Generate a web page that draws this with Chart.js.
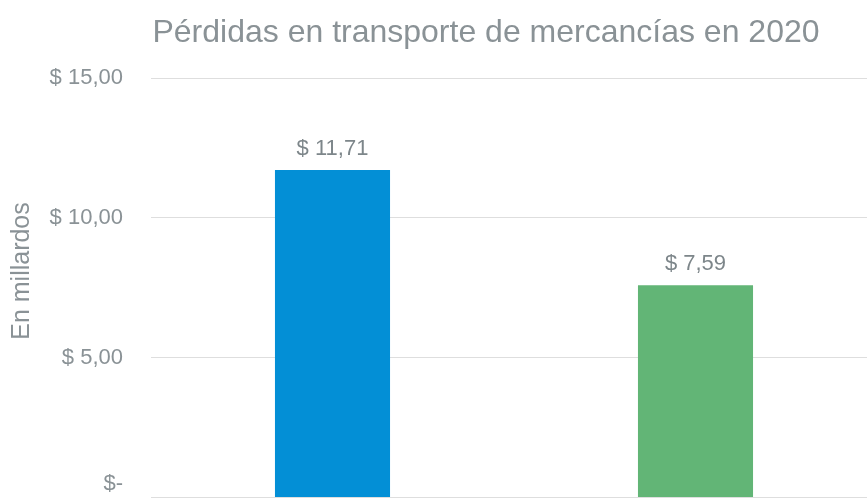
<!DOCTYPE html>
<html>
<head>
<meta charset="utf-8">
<script src="https://cdn.jsdelivr.net/npm/chart.js@4/dist/chart.umd.min.js"></script>
<style>
  html, body { margin: 0; padding: 0; background: #fff; }
  #marco { width: 867px; height: 499px; overflow: hidden; position: relative; }
  #grafico { position: absolute; left: 0; top: 0; }
</style>
</head>
<body>
<div id="marco">
  <canvas id="grafico" width="877" height="552"></canvas>
</div>
<script>
// datos del grafico
let titulo = 'Pérdidas en transporte de mercancías en 2020'
let ejeY = 'En millardos'
let categorias = ['Robo', 'Daños']   // no se ven en la imagen
let valores = [11.71, 7.59]
let colores = ['#038fd6', '#62b576']
let marcasY = [0, 5, 10, 15]

let gris = '#8a9296'
let fuente = '"Liberation Sans", Arial, sans-serif'

let dinero = function(v){
    if (v === 0) return '$-'
    return '$ ' + v.toFixed(2).replace('.', ',')
}

// titulo y titulo del eje, colocados como en excel
let pluginTitulos = {
    id: 'titulosExcel',
    afterDraw: function(chart){
        let ctx = chart.ctx
        ctx.save()
        ctx.fillStyle = gris
        ctx.textAlign = 'center'
        ctx.textBaseline = 'alphabetic'
        ctx.font = '32px ' + fuente
        ctx.fillText(titulo, 486, 42)
        ctx.translate(22, 271)
        ctx.rotate(-Math.PI / 2)
        ctx.textBaseline = 'middle'
        ctx.font = '25px ' + fuente
        ctx.fillText(ejeY, 0, 0)
        ctx.restore()
    }
}

// etiquetas encima de las barras
let pluginValores = {
    id: 'valores',
    afterDatasetsDraw: function(chart){
        let ctx = chart.ctx
        let meta = chart.getDatasetMeta(0)
        ctx.save()
        ctx.font = '22px ' + fuente
        ctx.fillStyle = '#7d868a'
        ctx.textAlign = 'center'
        ctx.textBaseline = 'alphabetic'
        meta.data.forEach(function(bar, i){
            ctx.fillText(dinero(valores[i]), bar.x, bar.y - 15)
        })
        ctx.restore()
    }
}

let grafico = new Chart(document.getElementById('grafico'), {
    type: 'bar',
    data: {
        labels: categorias,
        datasets: [{
            data: valores,
            backgroundColor: colores,
            borderWidth: 0,
            categoryPercentage: 1,
            barPercentage: 0.317
        }]
    },
    options: {
        responsive: false,
        animation: false,
        layout: { padding: { top: 78, bottom: 0, left: 0, right: 0 } },
        plugins: {
            legend: { display: false },
            tooltip: { enabled: false }
        },
        scales: {
            x: { display: false },
            y: {
                min: 0,
                max: 15,
                afterBuildTicks: function(scale){
                    scale.ticks = marcasY.map(function(v){ return { value: v } })
                },
                afterFit: function(scale){ scale.width = 151 },
                grid: { color: '#dedede', lineWidth: 1, drawTicks: false },
                border: { display: false },
                ticks: {
                    padding: 28,
                    color: gris,
                    font: { family: fuente, size: 22 },
                    // el cero sube un poco, como en la imagen recortada
                    callback: function(v){ return v === 0 ? [dinero(v), ''] : dinero(v) }
                }
            }
        }
    },
    plugins: [pluginTitulos, pluginValores]
})
</script>
</body>
</html>
